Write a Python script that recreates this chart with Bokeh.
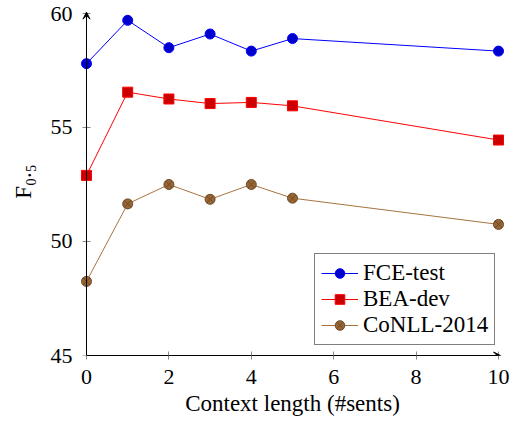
from bokeh.plotting import figure
from bokeh.models import Range1d, Arrow, VeeHead, FixedTicker
from bokeh.embed import file_html
from bokeh.resources import INLINE

# ---- data ----
context = [0, 1, 2, 3, 4, 5, 10]
fce_test = [57.8, 59.7, 58.5, 59.1, 58.35, 58.9, 58.35]
bea_dev = [52.9, 56.55, 56.25, 56.05, 56.1, 55.95, 54.45]
conll_2014 = [48.25, 51.65, 52.5, 51.85, 52.5, 51.9, 50.75]
x_ticks = [0, 2, 4, 6, 8, 10]
y_ticks = [45, 50, 55, 60]

FONT = "Liberation Serif"

p = figure(width=518, height=423, output_backend="svg", toolbar_location=None,
           x_range=Range1d(-0.194, 10.194), y_range=Range1d(45, 60.263),
           min_border_left=78, min_border_right=12, min_border_top=7,
           min_border_bottom=68)
p.outline_line_color = None
p.grid.visible = False
p.background_fill_color = "white"

# series
p.line(context, fce_test, line_color="#0000FF", line_width=1, legend_label="FCE-test")
p.scatter(context, fce_test, marker="circle", size=10, fill_color="#0000CC",
          line_color="#0000FF", legend_label="FCE-test")
p.line(context, bea_dev, line_color="#FF0000", line_width=1, legend_label="BEA-dev")
p.scatter(context, bea_dev, marker="square", size=10, fill_color="#CC0000",
          line_color="#FF0000", legend_label="BEA-dev")
p.line(context, conll_2014, line_color="#A8733E", line_width=1, legend_label="CoNLL-2014")
p.scatter(context, conll_2014, marker="circle_x", size=10, fill_color="#996633",
          line_color="#6B4A2A", legend_label="CoNLL-2014")

# x axis
xa = p.xaxis[0]
xa.ticker = FixedTicker(ticks=x_ticks)
xa.bounds = (0, 10)
xa.major_tick_in = 4
xa.major_tick_out = 4
xa.major_tick_line_color = "#888888"
xa.minor_tick_line_color = None
xa.axis_line_color = "black"
xa.major_label_text_font = FONT
xa.major_label_text_font_size = "22px"
xa.major_label_text_color = "black"
xa.major_label_standoff = 10
xa.axis_label = "Context length (#sents)"
xa.axis_label_text_font = FONT
xa.axis_label_text_font_size = "23px"
xa.axis_label_text_font_style = "normal"
xa.axis_label_text_color = "black"
xa.axis_label_standoff = 4

# y axis: labels only (line and ticks drawn at x = 0 below)
ya = p.yaxis[0]
ya.ticker = FixedTicker(ticks=y_ticks)
ya.axis_line_color = None
ya.major_tick_line_color = None
ya.minor_tick_line_color = None
ya.major_tick_in = 0
ya.major_tick_out = 0
ya.major_label_standoff = 6
ya.major_label_text_font = FONT
ya.major_label_text_font_size = "22px"
ya.major_label_text_color = "black"
ya.axis_label = "F\u2080.\u2085"
ya.axis_label_text_font = FONT
ya.axis_label_text_font_size = "23px"
ya.axis_label_text_font_style = "normal"
ya.axis_label_text_color = "black"
ya.axis_label_standoff = 12

# y axis line with arrow at x = 0, and its crossing ticks
p.add_layout(Arrow(end=VeeHead(size=7, fill_color="black", line_color="black", line_width=1),
                   x_start=0, y_start=45, x_end=0, y_end=60.06,
                   line_color="black", line_width=1))
p.scatter([0] * len(y_ticks), y_ticks, marker="dash", size=8,
          line_color="#888888", line_width=1)
# x axis arrow head
p.add_layout(Arrow(end=VeeHead(size=7, fill_color="black", line_color="black", line_width=1),
                   x_start=0, y_start=45, x_end=10.05, y_end=45,
                   line_color="black", line_width=1))

# legend
lg = p.legend[0]
lg.location = (236, 10)
lg.margin = 0
lg.padding = 6
lg.spacing = 0
lg.label_height = 24
lg.glyph_height = 24
lg.glyph_width = 37
lg.label_standoff = 5
lg.label_width = 124
lg.label_text_font = FONT
lg.label_text_font_size = "23px"
lg.label_text_color = "black"
lg.border_line_color = "black"
lg.border_line_width = 1
lg.background_fill_color = "white"
lg.background_fill_alpha = 1.0

open("out.html", "w").write(file_html(p, INLINE))
